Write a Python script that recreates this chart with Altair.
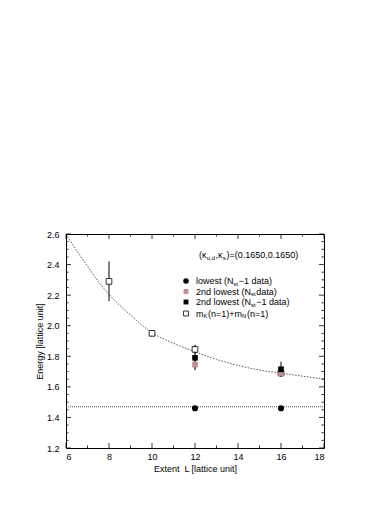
import altair as alt
import pandas as pd

# ---- data ----
L_open = [8, 10, 12, 16]
E_open = [2.29, 1.95, 1.845, 1.69]
err_open = [0.13, 0.02, 0.03, 0.02]

L_low = [12, 16]
E_low = [1.46, 1.46]
err_low = [0.01, 0.01]

L_pink = [12, 16]
E_pink = [1.745, 1.69]
err_pink = [0.03, 0.01]

L_blk = [12, 16]
E_blk = [1.79, 1.715]
err_blk = [0.08, 0.05]

curve_L = [6, 6.5, 7, 7.5, 8, 9, 10, 11, 12, 13, 14, 15, 16, 17, 18]
curve_E = [2.60, 2.49, 2.39, 2.29, 2.205, 2.07, 1.955, 1.885, 1.83, 1.78, 1.74, 1.71, 1.69, 1.67, 1.652]

hline_L = [6, 18]
hline_E = [1.47, 1.47]

x_ticks = [6, 8, 10, 12, 14, 16, 18]
x_minor = [7, 9, 11, 13, 15, 17]
y_ticks = [1.2, 1.4, 1.6, 1.8, 2.0, 2.2, 2.4, 2.6]
y_minor = [round(1.2 + 0.05 * i, 2) for i in range(29) if i % 4 != 0]

NB = "\u00a0"
W, H = 258, 214
X0, X1, Y0, Y1 = 6, 18, 1.2, 2.6
FONT = "Liberation Sans"
PINK = "#bf8f8f"

xs = alt.Scale(domain=[X0, X1], nice=False, zero=False)
ys = alt.Scale(domain=[Y0, Y1], nice=False, zero=False)

XAX = alt.Axis(values=x_ticks, format="d", labelOverlap=False, labelPadding=4, titlePadding=3,
               title="Extent" + NB + NB + "L [lattice unit]")
YAX = alt.Axis(values=y_ticks, format=".1f", labelOverlap=False, labelPadding=7, titlePadding=2,
               title="Energy [lattice unit]")

def X(f="L"):
    return alt.X(f + ":Q", scale=xs, axis=XAX)

def Y(f="E"):
    return alt.Y(f + ":Q", scale=ys, axis=YAX)

# pixel (inside plot area) -> data coordinates, for annotation placement
def px2x(p):
    return X0 + p / W * (X1 - X0)

def py2y(p):
    return Y1 - p / H * (Y1 - Y0)

def errdf(L, E, err):
    return pd.DataFrame({"L": L, "E": E, "lo": [e - d for e, d in zip(E, err)], "hi": [e + d for e, d in zip(E, err)]})

curve = alt.Chart(pd.DataFrame({"L": curve_L, "E": curve_E})).mark_line(
    color="#555555", strokeDash=[1.5, 1.5], strokeWidth=1, interpolate="monotone"
).encode(x=X(), y=Y())

hline = alt.Chart(pd.DataFrame({"L": hline_L, "E": hline_E})).mark_line(
    color="#555555", strokeDash=[1, 1], strokeWidth=1.2
).encode(x=X(), y=Y())

def bars(df, color="black"):
    return alt.Chart(df).mark_rule(color=color, strokeWidth=1).encode(
        x=X(), y=Y("lo"), y2="hi:Q")

d_open = errdf(L_open, E_open, err_open)
d_low = errdf(L_low, E_low, err_low)
d_pink = errdf(L_pink, E_pink, err_pink)
d_blk = errdf(L_blk, E_blk, err_blk)

pts_pink = alt.Chart(d_pink).mark_point(shape="square", filled=True, color=PINK, size=32, opacity=1).encode(x=X(), y=Y())
pts_blk = alt.Chart(d_blk).mark_point(shape="square", filled=True, color="black", size=32, opacity=1).encode(x=X(), y=Y())
pts_low = alt.Chart(d_low).mark_point(shape="circle", filled=True, color="black", size=38, opacity=1).encode(x=X(), y=Y())
pts_open = alt.Chart(d_open).mark_point(shape="square", filled=True, fill="white", stroke="black",
                                        strokeWidth=0.8, size=32, opacity=1).encode(x=X(), y=Y())

# inward ticks on all four sides
def xticks(vals, length):
    df = pd.DataFrame({"L": vals})
    b = alt.Chart(df).mark_rule(color="black", strokeWidth=0.8).encode(
        x=X(), y=alt.value(H), y2=alt.value(H - length))
    t = alt.Chart(df).mark_rule(color="black", strokeWidth=0.8).encode(
        x=X(), y=alt.value(0), y2=alt.value(length))
    return b + t

def yticks(vals, length):
    df = pd.DataFrame({"E": vals})
    l = alt.Chart(df).mark_rule(color="black", strokeWidth=0.8).encode(
        y=Y(), x=alt.value(0), x2=alt.value(length))
    r = alt.Chart(df).mark_rule(color="black", strokeWidth=0.8).encode(
        y=Y(), x=alt.value(W), x2=alt.value(W - length))
    return l + r

ticks = xticks(x_ticks, 5) + xticks(x_minor, 2.5) + yticks(y_ticks, 5) + yticks(y_minor, 2.5)

# ---- legend / annotation built as text pieces ----
AW = {"(": 333, ")": 333, "κ": 520, ",": 278, "=": 584, ".": 278, " ": 278, NB: 278, "−": 584, "+": 584,
      "l": 222, "o": 556, "w": 722, "e": 556, "s": 500, "t": 278, "N": 722, "d": 556, "a": 556,
      "n": 556, "m": 833, "K": 667, "u": 556, "2": 556, "1": 556, "0": 556, "5": 556, "6": 556}

def width(s, size):
    return sum(AW.get(c, 556) for c in s) * size / 1000.0

def pieces(parts, x0, y0):
    rows = []
    x = x0
    for txt, sub in parts:
        size = 6 if sub else 9
        rows.append({"t": txt, "L": px2x(x), "E": py2y(y0 + (2.5 if sub else 0)), "s": size})
        x += width(txt, size) + (0.6 if sub else 0)
    return rows

kappa_parts = [("(κ", False), ("u,d", True), (",κ", False), ("s", True), (")=(0.1650,0.1650)", False)]
leg_labels = [
    [("lowest (N", False), ("st", True), ("−1 data)", False)],
    [("2nd lowest (N", False), ("st", True), (NB + "data)", False)],
    [("2nd lowest (N", False), ("st", True), ("−1 data)", False)],
    [("m", False), ("K", True), ("(n=1)+m", False), ("N", True), ("(n=1)", False)],
]
leg_y = [47, 57.5, 68, 79.5]
rows = pieces(kappa_parts, 133, 21)
for lab, yy in zip(leg_labels, leg_y):
    rows += pieces(lab, 130, yy)
tdf = pd.DataFrame(rows)

texts = []
for s in [9, 6]:
    texts.append(alt.Chart(tdf[tdf.s == s]).mark_text(
        align="left", baseline="middle", font=FONT, fontSize=s, color="black"
    ).encode(x=X(), y=Y(), text="t:N"))

sym = pd.DataFrame({"L": [px2x(120)] * 4, "E": [py2y(v) for v in leg_y], "k": ["c", "p", "b", "o"]})
sym_c = alt.Chart(sym[sym.k == "c"]).mark_point(shape="circle", filled=True, color="black", size=30, opacity=1).encode(x=X(), y=Y())
sym_p = alt.Chart(sym[sym.k == "p"]).mark_point(shape="square", filled=True, color=PINK, size=24, opacity=1).encode(x=X(), y=Y())
sym_b = alt.Chart(sym[sym.k == "b"]).mark_point(shape="square", filled=True, color="black", size=24, opacity=1).encode(x=X(), y=Y())
sym_o = alt.Chart(sym[sym.k == "o"]).mark_point(shape="square", filled=True, fill="white", stroke="black",
                                                strokeWidth=0.8, size=24, opacity=1).encode(x=X(), y=Y())

chart = alt.layer(
    curve, hline, ticks,
    bars(d_open), bars(d_low), bars(d_pink, PINK), bars(d_blk),
    pts_open, pts_pink, pts_blk, pts_low,
    *texts, sym_c, sym_p, sym_b, sym_o,
).properties(
    width=W, height=H,
    autosize=alt.AutoSizeParams(type="none"),
    padding={"left": 58, "top": 226, "right": 59, "bottom": 50},
).configure_view(
    stroke="black", strokeWidth=1
).configure_axis(
    grid=False, domain=False, ticks=False, labelFont=FONT, titleFont=FONT,
    labelFontSize=9, titleFontSize=9, labelColor="black", titleColor="black",
    titleFontWeight="normal", labelOverlap=False,
)

chart.save("out.html", embed_options={"renderer": "svg", "actions": False})
